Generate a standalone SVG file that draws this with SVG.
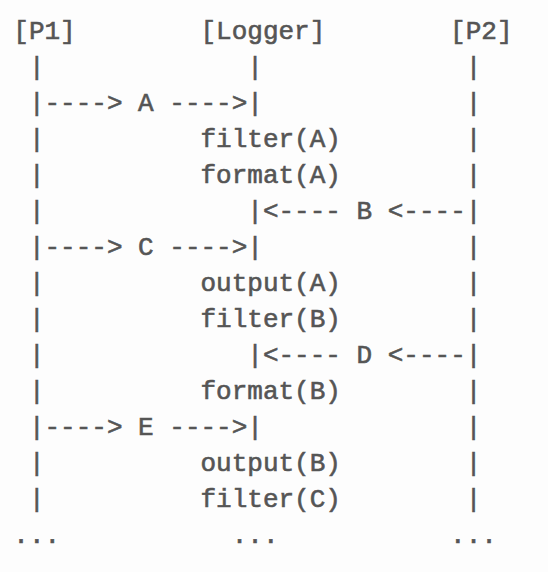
<svg xmlns="http://www.w3.org/2000/svg" width="548" height="572" viewBox="0 0 548 572">
<style>
text{font-family:"Liberation Mono","DejaVu Sans Mono",monospace;font-size:26px;fill:#555;stroke:#555;stroke-width:0.6px;white-space:pre}
</style>
<rect width="548" height="572" fill="#fdfdfd"/>
<g id="p1"><text x="13.3" y="38.5">[P1]</text></g>
<g id="logger"><text x="200.5" y="38.5">[Logger]</text></g>
<g id="p2"><text x="450.1" y="38.5">[P2]</text></g>
<g id="connectors" xml:space="preserve">
<text x="28.9" y="74.5">|</text><text x="247.3" y="74.5">|</text><text x="465.7" y="74.5">|</text>
<text x="28.9" y="110.5">|----&gt; A ----&gt;|</text><text x="465.7" y="110.5">|</text>
<text x="28.9" y="146.5">|</text><text x="465.7" y="146.5">|</text>
<text x="28.9" y="182.5">|</text><text x="465.7" y="182.5">|</text>
<text x="28.9" y="218.5">|</text><text x="247.3" y="218.5">|&lt;---- B &lt;----|</text>
<text x="28.9" y="254.5">|----&gt; C ----&gt;|</text><text x="465.7" y="254.5">|</text>
<text x="28.9" y="290.5">|</text><text x="465.7" y="290.5">|</text>
<text x="28.9" y="326.5">|</text><text x="465.7" y="326.5">|</text>
<text x="28.9" y="362.5">|</text><text x="247.3" y="362.5">|&lt;---- D &lt;----|</text>
<text x="28.9" y="398.5">|</text><text x="465.7" y="398.5">|</text>
<text x="28.9" y="434.5">|----&gt; E ----&gt;|</text><text x="465.7" y="434.5">|</text>
<text x="28.9" y="470.5">|</text><text x="465.7" y="470.5">|</text>
<text x="28.9" y="506.5">|</text><text x="465.7" y="506.5">|</text>
<text x="13.3" y="542.5">...</text><text x="231.7" y="542.5">...</text><text x="450.1" y="542.5">...</text>
</g>
<g id="steps">
<text x="200.5" y="146.5">filter(A)</text>
<text x="200.5" y="182.5">format(A)</text>
<text x="200.5" y="290.5">output(A)</text>
<text x="200.5" y="326.5">filter(B)</text>
<text x="200.5" y="398.5">format(B)</text>
<text x="200.5" y="470.5">output(B)</text>
<text x="200.5" y="506.5">filter(C)</text>
</g>
</svg>
